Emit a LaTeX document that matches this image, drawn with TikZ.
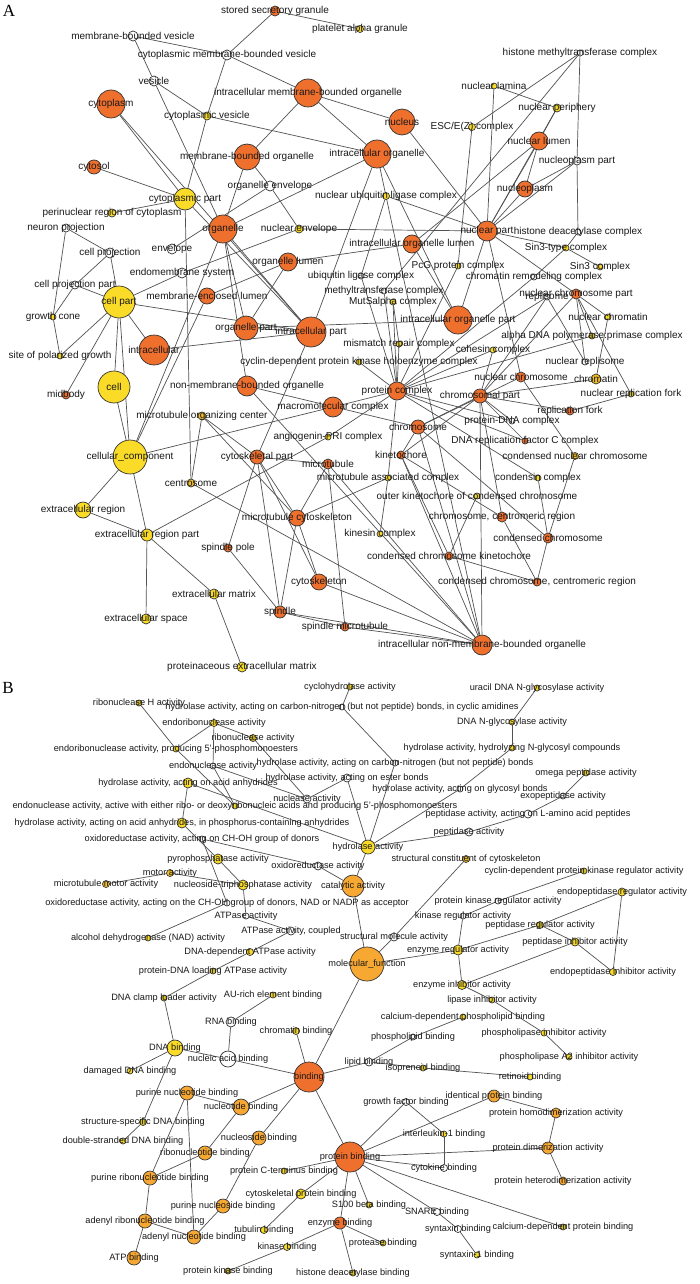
\documentclass[tikz,border=0pt]{standalone}
\usepackage{fontspec}
\setmainfont{Liberation Sans}
\newfontfamily\panelfont{Liberation Serif}
\pgfdeclarelayer{bg}\pgfdeclarelayer{fg}
\pgfsetlayers{bg,main,fg}
\definecolor{co}{RGB}{239,111,45}
\definecolor{cy}{RGB}{250,220,40}
\definecolor{cl}{RGB}{247,168,50}
\definecolor{cw}{RGB}{255,255,255}
\definecolor{cv}{RGB}{214,190,40}
\definecolor{cm}{RGB}{244,190,40}
\def\labsize{10}
\tikzset{
 gcirc/.style={circle,draw=black!80,line width=0.7pt,inner sep=0pt},
 lab/.style={inner sep=0pt,text=black!90,font=\fontsize{\labsize}{12}\selectfont},
 edge/.style={draw=black!68,line width=0.7pt},
 panel/.style={inner sep=0pt,font=\panelfont\fontsize{17}{17}\selectfont}
}
\newcommand\gn[6]{%
 \node[gcirc,minimum size={2*#4},fill=#5] (#1) at (#2,#3) {};%
 \begin{pgfonlayer}{fg}\node[lab] at (#2,#3) {#6};\end{pgfonlayer}}
\begin{document}
\begin{tikzpicture}[x=1pt,y=-1pt]
\useasboundingbox (0,0) rectangle (700,1284);
\begin{pgfonlayer}{bg}\fill[white] (0,0) rectangle (700,1284);\end{pgfonlayer}
\node[panel] (pA) at (9,11) {A};
\node[panel] (pB) at (8,688) {B};
% ---------------- Panel A nodes
\gn{ssg}{275}{11}{5}{co}{stored secretory granule}
\gn{pag}{360}{29}{3.5}{cy}{platelet alpha granule}
\gn{mbv}{133}{36}{5}{cw}{membrane-bounded vesicle}
\gn{cmbv}{227}{55}{5}{cw}{cytoplasmic membrane-bounded vesicle}
\gn{ves}{154}{81}{5}{cw}{vesicle}
\gn{cyto}{111}{104}{14}{co}{cytoplasm}
\gn{cv}{207}{116}{4}{cy}{cytoplasmic vesicle}
\gn{imbo}{308}{93}{14}{co}{intracellular membrane-bounded organelle}
\gn{mbo}{247}{157}{13}{co}{membrane-bounded organelle}
\gn{csol}{94}{167}{7}{co}{cytosol}
\gn{oenv}{270}{186}{5}{cw}{organelle envelope}
\gn{cpt}{185}{199}{11}{cy}{cytoplasmic part}
\gn{peri}{112}{213}{4}{cy}{perinuclear region of cytoplasm}
\gn{org}{223}{229}{14}{co}{organelle}
\gn{hmc}{580}{53}{3}{cw}{histone methyltransferase complex}
\gn{nlam}{494}{86}{3}{cy}{nuclear lamina}
\gn{nper}{557}{108}{4}{cy}{nuclear periphery}
\gn{nuc}{402}{122}{13}{co}{nucleus}
\gn{esc}{472}{127}{3.5}{cy}{ESC/E(Z) complex}
\gn{nlum}{539}{141}{9}{co}{nuclear lumen}
\gn{iorg}{377}{154}{14}{co}{intracellular organelle}
\gn{npp}{577}{161}{4}{cw}{nucleoplasm part}
\gn{npl}{525}{189}{8}{co}{nucleoplasm}
\gn{nulc}{386}{196}{3.5}{cy}{nuclear ubiquitin ligase complex}
\gn{npart}{487}{231}{10}{co}{nuclear part}
\gn{nproj}{66}{228}{4}{cw}{neuron projection}
\gn{nenv}{299}{229}{4}{cy}{nuclear envelope}
\gn{cproj}{110}{253}{5}{cw}{cell projection}
\gn{env}{172}{249}{5}{cw}{envelope}
\gn{olum}{288}{262}{9}{co}{organelle lumen}
\gn{ems}{182}{273}{5}{cw}{endomembrane system}
\gn{cpp}{75}{285}{4}{cw}{cell projection part}
\gn{cpart}{119}{302}{16}{cy}{cell part}
\gn{mel}{207}{296}{8}{co}{membrane-enclosed lumen}
\gn{gc}{53}{317}{3}{cy}{growth cone}
\gn{opart}{246}{328}{12}{co}{organelle part}
\gn{ipart}{311}{332}{15}{co}{intracellular part}
\gn{intra}{154}{350}{15}{co}{intracellular}
\gn{spg}{60}{356}{3}{cy}{site of polarized growth}
\gn{cdk}{359}{362}{3}{cy}{cyclin-dependent protein kinase holoenzyme complex}
\gn{cell}{114}{387}{16}{cy}{cell}
\gn{nmbo}{247}{386}{10}{co}{non-membrane-bounded organelle}
\gn{mid}{66}{395}{4}{co}{midbody}
\gn{mmc}{333}{407}{10}{co}{macromolecular complex}
\gn{mtoc}{202}{416}{4}{cm}{microtubule organizing center}
\gn{apri}{328}{437}{3}{cy}{angiogenin-PRI complex}
\gn{hdac}{578}{232}{3}{cw}{histone deacetylase complex}
\gn{iol}{412}{244}{9}{co}{intracellular organelle lumen}
\gn{sin3t}{566}{248}{3}{cy}{Sin3-type complex}
\gn{pcg}{458}{266}{3}{cy}{PcG protein complex}
\gn{sin3}{600}{267}{3}{cy}{Sin3 complex}
\gn{crc}{534}{277}{3}{cw}{chromatin remodeling complex}
\gn{ulc}{361}{276}{3}{cw}{ubiquitin ligase complex}
\gn{mtc}{384}{291}{3}{cw}{methyltransferase complex}
\gn{msa}{393}{302}{3}{cy}{MutSalpha complex}
\gn{ncp}{576}{294}{5}{co}{nuclear chromosome part}
\gn{rep}{547}{297}{3}{cw}{replisome}
\gn{nchr}{608}{317}{3}{cy}{nuclear chromatin}
\gn{iop}{458}{320}{14}{co}{intracellular organelle part}
\gn{adp}{592}{336}{3}{cv}{alpha DNA polymerase:primase complex}
\gn{mmr}{399}{344}{3}{cy}{mismatch repair complex}
\gn{coh}{493}{350}{3}{cy}{cohesin complex}
\gn{nrep}{585}{362}{3}{cw}{nuclear replisome}
\gn{nchrom}{521}{377}{5}{co}{nuclear chromosome}
\gn{chrt}{596}{379}{5}{cm}{chromatin}
\gn{pc}{397}{391}{9}{co}{protein complex}
\gn{chp}{480}{396}{7}{co}{chromosomal part}
\gn{nrf}{631}{394}{3}{cv}{nuclear replication fork}
\gn{rf}{570}{411}{4}{co}{replication fork}
\gn{pdna}{512}{421}{3}{cw}{protein-DNA complex}
\gn{chr}{418}{427}{7}{co}{chromosome}
\gn{rfc}{525}{441}{3}{co}{DNA replication factor C complex}
\gn{cc}{130}{457}{17}{cy}{cellular\_component}
\gn{cskp}{257}{457}{7}{co}{cytoskeletal part}
\gn{mt}{328}{464}{5}{co}{microtubule}
\gn{mac}{388}{478}{3}{cy}{microtubule associated complex}
\gn{cent}{191}{483}{4}{cm}{centrosome}
\gn{exr}{83}{510}{8}{cy}{extracellular region}
\gn{mcsk}{297}{518}{8}{co}{microtubule cytoskeleton}
\gn{exrp}{147}{535}{6}{cy}{extracellular region part}
\gn{spp}{228}{548}{4}{co}{spindle pole}
\gn{csk}{319}{582}{8}{co}{cytoskeleton}
\gn{exm}{214}{594}{5}{cy}{extracellular matrix}
\gn{spin}{280}{612}{6}{co}{spindle}
\gn{spmt}{345}{627}{4}{co}{spindle microtubule}
\gn{exs}{146}{619}{5}{cy}{extracellular space}
\gn{pexm}{242}{667}{5}{cy}{proteinaceous extracellular matrix}
\gn{kin}{401}{455}{4}{co}{kinetochore}
\gn{cnc}{575}{456}{3.5}{cm}{condensed nuclear chromosome}
\gn{cond}{538}{478}{3}{cy}{condensin complex}
\gn{okc}{477}{496}{3}{cy}{outer kinetochore of condensed chromosome}
\gn{ccr}{502}{517}{5}{co}{chromosome, centromeric region}
\gn{kc}{380}{534}{3}{cy}{kinesin complex}
\gn{cchr}{548}{538}{5}{co}{condensed chromosome}
\gn{cck}{449}{556}{4}{co}{condensed chromosome kinetochore}
\gn{cccr}{537}{582}{4}{co}{condensed chromosome, centromeric region}
\gn{inmbo}{482}{645}{10}{co}{intracellular non-membrane-bounded organelle}
% ---------------- Panel B nodes (slightly smaller text)
\def\labsize{9.2}
\gn{cyh}{350}{687}{3}{cy}{cyclohydrolase activity}
\gn{rnh}{139}{703}{3}{cv}{ribonuclease H activity}
\gn{hcna}{342}{707}{3}{cw}{hydrolase activity, acting on carbon-nitrogen (but not peptide) bonds, in cyclic amidines}
\gn{erna}{214}{723}{3.5}{cy}{endoribonuclease activity}
\gn{rna}{253}{738}{3.5}{cv}{ribonuclease activity}
\gn{er5}{176}{749}{3}{cy}{endoribonuclease activity, producing 5'-phosphomonoesters}
\gn{enu}{213}{766}{3}{cw}{endonuclease activity}
\gn{hcn}{395}{763}{3}{cw}{hydrolase activity, acting on carbon-nitrogen (but not peptide) bonds}
\gn{hest}{347}{778}{4}{cw}{hydrolase activity, acting on ester bonds}
\gn{haa}{188}{783}{5}{cy}{hydrolase activity, acting on acid anhydrides}
\gn{nuca}{307}{799}{4}{cw}{nuclease activity}
\gn{hgly}{460}{789}{3}{cw}{hydrolase activity, acting on glycosyl bonds}
\gn{enrd}{235}{806}{3}{cy}{endonuclease activity, active with either ribo- or deoxyribonucleic acids and producing 5'-phosphomonoesters}
\gn{haap}{182}{823}{5}{cy}{hydrolase activity, acting on acid anhydrides, in phosphorus-containing anhydrides}
\gn{ochoh}{202}{839}{3}{cw}{oxidoreductase activity, acting on CH-OH group of donors}
\gn{ppase}{218}{859}{5}{cy}{pyrophosphatase activity}
\gn{oxr}{318}{866}{4}{cw}{oxidoreductase activity}
\gn{hyd}{368}{847}{7}{cy}{hydrolase activity}
\gn{udg}{537}{688}{3}{cy}{uracil DNA N-glycosylase activity}
\gn{dng}{512}{722}{3}{cy}{DNA N-glycosylase activity}
\gn{hng}{512}{748}{3}{cy}{hydrolase activity, hydrolyzing N-glycosyl compounds}
\gn{omega}{586}{773}{3}{cy}{omega peptidase activity}
\gn{exo}{563}{796}{3}{cw}{exopeptidase activity}
\gn{pla}{528}{814}{4}{cw}{peptidase activity, acting on L-amino acid peptides}
\gn{pep}{469}{832}{4}{cw}{peptidase activity}
\gn{scc}{466}{859}{3.5}{cm}{structural constituent of cytoskeleton}
\gn{mot}{170}{873}{3.5}{cm}{motor activity}
\gn{mtm}{106}{884}{3.5}{cm}{microtubule motor activity}
\gn{ntp}{243}{885}{5}{cy}{nucleoside-triphosphatase activity}
\gn{cat}{353}{886}{11}{cl}{catalytic activity}
\gn{nad}{227}{903}{3}{cw}{oxidoreductase activity, acting on the CH-OH group of donors, NAD or NADP as acceptor}
\gn{atp}{246}{916}{3}{cw}{ATPase activity}
\gn{atpc}{291}{931}{4}{cw}{ATPase activity, coupled}
\gn{adh}{148}{938}{3}{cy}{alcohol dehydrogenase (NAD) activity}
\gn{dda}{250}{952}{3.5}{cy}{DNA-dependent ATPase activity}
\gn{pdl}{213}{971}{3}{cv}{protein-DNA loading ATPase activity}
\gn{dcl}{164}{998}{3}{cv}{DNA clamp loader activity}
\gn{aur}{273}{995}{3}{cy}{AU-rich element binding}
\gn{rnab}{231}{1022}{5}{cw}{RNA binding}
\gn{chb}{296}{1031}{3.5}{cy}{chromatin binding}
\gn{dnab}{175}{1048}{8}{cy}{DNA binding}
\gn{nab}{228}{1059}{8}{cw}{nucleic acid binding}
\gn{bind}{309}{1077}{15}{co}{binding}
\gn{ddb}{130}{1071}{3}{cy}{damaged DNA binding}
\gn{lipb}{369}{1062}{4}{cw}{lipid binding}
\gn{mf}{367}{964}{17}{cl}{molecular\_function}
\gn{sma}{394}{937}{4}{cw}{structural molecule activity}
\gn{cdkr}{584}{871}{3}{cv}{cyclin-dependent protein kinase regulator activity}
\gn{epr}{622}{892}{4}{cy}{endopeptidase regulator activity}
\gn{pkr}{498}{901}{3}{cw}{protein kinase regulator activity}
\gn{kr}{463}{916}{3}{cw}{kinase regulator activity}
\gn{pr}{540}{925}{3.5}{cv}{peptidase regulator activity}
\gn{pi}{575}{942}{4}{cy}{peptidase inhibitor activity}
\gn{enr}{458}{950}{5}{cy}{enzyme regulator activity}
\gn{epi}{613}{972}{3.5}{cy}{endopeptidase inhibitor activity}
\gn{ei}{462}{985}{4.5}{cy}{enzyme inhibitor activity}
\gn{li}{492}{1000}{3}{cy}{lipase inhibitor activity}
\gn{cdpl}{463}{1017}{3}{cy}{calcium-dependent phospholipid binding}
\gn{pli}{544}{1033}{3}{cy}{phospholipase inhibitor activity}
\gn{plb}{413}{1037}{3}{cw}{phospholipid binding}
\gn{pla2}{569}{1057}{3}{cy}{phospholipase A2 inhibitor activity}
\gn{iso}{423}{1068}{3}{cy}{isoprenoid binding}
\gn{ret}{530}{1077}{3}{cy}{retinoid binding}
\gn{pnb}{187}{1093}{7}{cl}{purine nucleotide binding}
\gn{ntb}{241}{1107}{8}{cl}{nucleotide binding}
\gn{ssd}{143}{1122}{3.5}{cv}{structure-specific DNA binding}
\gn{nsb}{259}{1138}{7}{cl}{nucleoside binding}
\gn{dsd}{123}{1141}{3}{cy}{double-stranded DNA binding}
\gn{rnb}{205}{1153}{7}{cl}{ribonucleotide binding}
\gn{pb}{350}{1157}{15}{co}{protein binding}
\gn{pct}{284}{1171}{3}{cy}{protein C-terminus binding}
\gn{prb}{150}{1178}{7}{cl}{purine ribonucleotide binding}
\gn{cpb}{301}{1194}{5}{cy}{cytoskeletal protein binding}
\gn{s100}{369}{1205}{3}{cy}{S100 beta binding}
\gn{pnsb}{223}{1206}{7}{cl}{purine nucleoside binding}
\gn{arb}{145}{1221}{7}{cl}{adenyl ribonucleotide binding}
\gn{enzb}{340}{1223}{6}{co}{enzyme binding}
\gn{tub}{264}{1230}{3.5}{cy}{tubulin binding}
\gn{anb}{194}{1237}{7}{cl}{adenyl nucleotide binding}
\gn{kb}{287}{1247}{3.5}{cy}{kinase binding}
\gn{atpb}{134}{1258}{7}{cl}{ATP binding}
\gn{pkb}{228}{1271}{3}{cv}{protein kinase binding}
\gn{hdb}{353}{1273}{3}{cv}{histone deacetylase binding}
\gn{ipb}{494}{1096}{6}{cl}{identical protein binding}
\gn{gfb}{406}{1102}{3.5}{cw}{growth factor binding}
\gn{phom}{556}{1113}{5}{cl}{protein homodimerization activity}
\gn{il1}{444}{1134}{3}{cy}{interleukin-1 binding}
\gn{pdim}{548}{1148}{6}{cl}{protein dimerization activity}
\gn{cyk}{444}{1168}{3.5}{cw}{cytokine binding}
\gn{phet}{563}{1181}{4}{cl}{protein heterodimerization activity}
\gn{snare}{437}{1212}{3.5}{cw}{SNARE binding}
\gn{stx}{458}{1229}{3.5}{cw}{syntaxin binding}
\gn{cdpb}{563}{1227}{3}{cv}{calcium-dependent protein binding}
\gn{prot}{383}{1243}{3}{cv}{protease binding}
\gn{stx1}{477}{1255}{3}{cy}{syntaxin-1 binding}
% ---------------- edges
\begin{pgfonlayer}{bg}
\foreach \a/\b in {ssg/pag,ssg/cmbv,mbv/cmbv,mbv/ves,ves/org,cmbv/imbo,cmbv/cv,ves/cv,cv/cpt,cv/iorg,
 cyto/cpt,cyto/ipart,csol/cpt,peri/cpt,cpt/cent,cpt/ipart,imbo/mbo,imbo/iorg,imbo/nuc,nuc/npart,
 mbo/oenv,mbo/org,oenv/env,oenv/nenv,nenv/npart,nenv/ems,ems/cpart,org/iorg,org/opart,org/nmbo,org/ipart,
 opart/olum,mel/olum,olum/iol,iol/nlum,iol/iop,iorg/iop,iorg/ipart,opart/ipart,opart/iop,iorg/inmbo,
 nlam/npart,nlam/nper,nper/npart,nlum/npart,nlum/nper,nlum/npl,npl/npart,npp/npl,npp/npart,hmc/npp,npp/hdac,
 hmc/esc,hmc/mtc,esc/pcg,nulc/npart,nulc/ulc,npart/iop,npart/ncp,npart/nchrom,npart/sin3t,
 hdac/sin3t,sin3t/sin3,sin3t/crc,crc/pc,ncp/nchr,nchr/chrt,ncp/adp,ncp/nrep,ncp/nrf,ncp/chp,rep/nrep,rep/chp,rep/pc,
 chrt/chp,nrf/rf,rf/chp,msa/mmr,mmc/pc,mmc/cc,
 pc/msa,pc/mmr,pc/cdk,pc/coh,pc/ulc,pc/mtc,pc/adp,pc/apri,pc/mac,pc/rfc,pc/cond,pc/pdna,pc/pcg,
 chr/nchrom,chr/chp,chr/inmbo,nmbo/inmbo,nmbo/chr,chp/ccr,chp/pdna,chp/coh,chp/inmbo,chp/kin,chp/rfc,
 kin/ccr,kin/cck,kin/chr,ccr/cccr,cchr/cccr,cnc/cchr,cnc/nchrom,cond/cchr,okc/cck,cck/cccr,chr/cchr,
 inmbo/spmt,inmbo/spin,inmbo/csk,inmbo/cent,inmbo/mt,inmbo/kin,
 cskp/csk,cskp/mcsk,cskp/mt,cskp/spp,cskp/spin,cskp/ipart,mtoc/cent,mtoc/cskp,mtoc/mcsk,
 mt/mcsk,mt/spmt,mcsk/csk,mcsk/spin,mcsk/mac,spp/spin,spin/spmt,
 apri/exrp,mac/kc,cc/cell,cc/cpart,cc/org,cc/mel,cc/exr,cc/exrp,
 cell/cpart,intra/cpart,intra/ipart,cpart/ipart,cpart/cproj,cpart/cpp,cpart/spg,cpart/mid,
 nproj/cproj,nproj/gc,cproj/cpp,cpp/gc,gc/spg,exr/exrp,exrp/exs,exrp/exm,exm/pexm}
 \draw[edge] (\a) -- (\b);
\foreach \a/\b in {cyh/hcna,hcna/hcn,hcn/hyd,rnh/er5,er5/enrd,erna/er5,erna/rna,erna/enu,rna/nuca,enu/nuca,enu/enrd,
 nuca/hest,hest/hyd,haa/hyd,haa/haap,haap/ppase,ppase/ntp,ochoh/oxr,ochoh/nad,nad/adh,oxr/cat,hyd/cat,
 hyd/hgly,hgly/hng,hng/dng,dng/udg,hyd/pep,pep/pla,pla/exo,exo/omega,cat/mf,mf/sma,sma/scc,mf/enr,mf/bind,
 enr/kr,kr/pkr,pkr/cdkr,enr/pr,pr/epr,pr/pi,pi/epi,epr/epi,enr/ei,ei/pi,ei/li,li/pli,pli/pla2,
 cdpl/plb,plb/lipb,lipb/bind,lipb/iso,iso/ret,bind/chb,bind/nab,nab/rnab,rnab/aur,nab/dnab,dnab/dcl,
 dcl/pdl,pdl/dda,dda/atpc,atpc/atp,atp/ntp,ntp/mot,mot/mtm,dnab/ddb,dnab/ssd,ssd/dsd,
 bind/ntb,bind/nsb,bind/pb,ntb/pnb,ntb/rnb,pnb/prb,pnb/anb,rnb/prb,prb/arb,arb/atpb,arb/anb,anb/pnsb,pnsb/nsb,
 pb/pct,pb/cpb,cpb/tub,pb/enzb,enzb/kb,kb/pkb,enzb/prot,enzb/hdb,pb/s100,pb/snare,snare/stx,stx/stx1,
 pb/cdpb,pb/gfb,gfb/il1,il1/cyk,pb/cyk,pb/ipb,ipb/phom,phom/pdim,pb/pdim,pdim/phet}
 \draw[edge] (\a) -- (\b);
\end{pgfonlayer}
\end{tikzpicture}
\end{document}
